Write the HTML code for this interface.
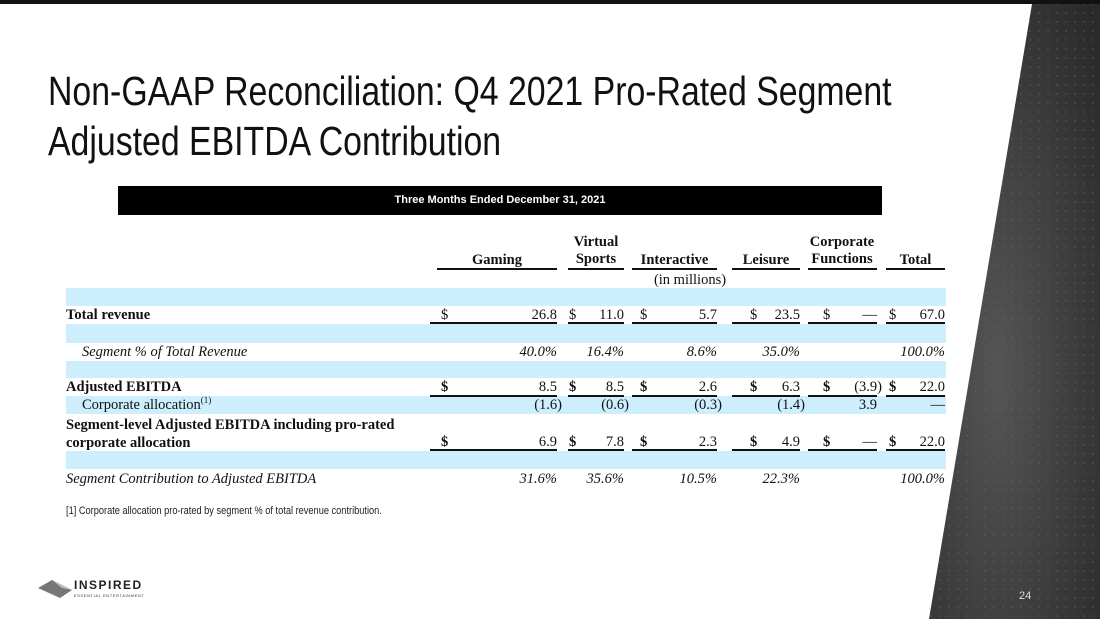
<!DOCTYPE html>
<html><head><meta charset="utf-8"><style>
body{margin:0;width:1100px;height:619px;overflow:hidden;background:#fff;position:relative;font-family:"Liberation Serif",serif;}
.a{position:absolute;white-space:nowrap}
.t{font-size:14.5px;line-height:16px;color:#111}
.b{font-weight:bold}
.i{font-style:italic}
.band{position:absolute;left:66px;width:880px;background:#cdeefc}
.ul{position:absolute;height:2px;background:#111}
</style></head><body>
<div class="a" style="left:0;top:0;width:1100px;height:4px;background:#111"></div>
<svg class="a" style="left:0;top:0" width="1100" height="619">
<defs><radialGradient id="g" cx="0.4" cy="0.6" r="0.8"><stop offset="0" stop-color="#555"/><stop offset="1" stop-color="#2a2a2a"/></radialGradient>
<pattern id="d" width="9" height="9" patternUnits="userSpaceOnUse"><circle cx="4" cy="4" r="1" fill="#6a6a6a"/></pattern></defs>
<polygon points="1032,4 1100,4 1100,619 929,619" fill="url(#g)"/>
<polygon points="1032,4 1100,4 1100,619 929,619" fill="url(#d)" opacity="0.4"/>
</svg>
<div class="a" style="left:1019px;top:590px;font-family:'Liberation Sans',sans-serif;font-size:11px;color:#ddd">24</div>
<div class="a" style="left:48px;top:66px;font-family:'Liberation Sans',sans-serif;font-size:41px;line-height:50px;color:#111;transform:scaleX(0.825);transform-origin:0 0">Non-GAAP Reconciliation: Q4 2021 Pro-Rated Segment<br>Adjusted EBITDA Contribution</div>
<div class="a" style="left:118px;top:186px;width:764px;height:29px;background:#000;color:#fff;font-family:'Liberation Sans',sans-serif;font-weight:bold;font-size:11px;line-height:29px;text-align:center">Three Months Ended December 31, 2021</div>

<div class="band" style="top:288px;height:18px"></div>
<div class="band" style="top:324px;height:19px"></div>
<div class="band" style="top:361px;height:17px"></div>
<div class="band" style="top:396px;height:18px"></div>
<div class="band" style="top:451px;height:18px"></div>

<div class="a t b" style="left:437px;width:120px;top:252px;text-align:center">Gaming</div>
<div class="a t b" style="left:560px;width:72px;top:234px;text-align:center;line-height:17px">Virtual<br>Sports</div>
<div class="a t b" style="left:630px;width:89px;top:252px;text-align:center">Interactive</div>
<div class="a t b" style="left:730px;width:72px;top:252px;text-align:center">Leisure</div>
<div class="a t b" style="left:800px;width:84px;top:234px;text-align:center;line-height:17px">Corporate<br>Functions</div>
<div class="a t b" style="left:886px;width:59px;top:252px;text-align:center">Total</div>
<div class="a t" style="left:638px;width:104px;top:272px;text-align:center">(in millions)</div>
<div class="ul" style="left:437px;width:120px;top:268px"></div>
<div class="ul" style="left:568px;width:56px;top:268px"></div>
<div class="ul" style="left:632px;width:85px;top:268px"></div>
<div class="ul" style="left:732px;width:68px;top:268px"></div>
<div class="ul" style="left:808px;width:69px;top:268px"></div>
<div class="ul" style="left:886px;width:59px;top:268px"></div>

<div class="a t b" style="left:66px;top:307px">Total revenue</div>
<div class="a t i" style="left:82px;top:344px">Segment % of Total Revenue</div>
<div class="a t b" style="left:66px;top:379px">Adjusted EBITDA</div>
<div class="a t" style="left:82px;top:397px">Corporate allocation<sup style="font-size:9px;line-height:0">(1)</sup></div>
<div class="a t b" style="left:66px;top:416px;line-height:18px">Segment-level Adjusted EBITDA including pro-rated<br>corporate allocation</div>
<div class="a t i" style="left:66px;top:471px">Segment Contribution to Adjusted EBITDA</div>

<div id="cells"></div>
<div class="a" style="left:66px;top:505px;font-family:'Liberation Sans',sans-serif;font-size:11px;color:#222;transform:scaleX(0.84);transform-origin:0 0">[1] Corporate allocation pro-rated by segment % of total revenue contribution.</div>

<div class="a" style="left:38px;top:578px;width:110px;height:24px">
<svg width="34" height="22" style="position:absolute;left:0;top:0"><polygon points="0,10 14,2 34,12 22,20" fill="#777"/><polygon points="14,2 34,12 24,10" fill="#bbb"/></svg>
<div class="a" style="left:36px;top:0;font-family:'Liberation Sans',sans-serif;font-weight:bold;font-size:12px;letter-spacing:1.5px;color:#222">INSPIRED</div>
<div class="a" style="left:36px;top:15px;font-family:'Liberation Sans',sans-serif;font-size:4px;letter-spacing:0.6px;color:#333">ESSENTIAL ENTERTAINMENT</div>
</div>

<script>
const columns=["gaming","virtual-sports","interactive","leisure","corporate","total"];
const totalRevenue=["26.8","11.0","5.7","23.5","—","67.0"];
const segmentPct=["40.0%","16.4%","8.6%","35.0%","","100.0%"];
const adjEbitda=["8.5","8.5","2.6","6.3","(3.9)","22.0"];
const corpAlloc=["(1.6)","(0.6)","(0.3)","(1.4)","3.9","—"];
const segmentLevel=["6.9","7.8","2.3","4.9","—","22.0"];
const contribution=["31.6%","35.6%","10.5%","22.3%","","100.0%"];
const dollarX=[441,569,640,750,823,889];
const rightX=[557,624,717,800,877,945];
const lineL=[430,568,632,732,808,886];
const host=document.getElementById('cells');
function row(vals,top,opts){
 vals.forEach((v,i)=>{
  if(v==="")return;
  const d=document.createElement('div');
  d.className='a t'+(opts.ital?' i':'');
  let r=rightX[i];
  if(v.startsWith('(')&&v.endsWith(')'))r+=5;
  d.style.right=(1100-r)+'px';d.style.top=top+'px';
  d.textContent=v;
  
  
  host.appendChild(d);
  if(opts.dollar){
   const s=document.createElement('div');
   s.className='a t'+(opts.bold?' b':'');
   s.style.left=dollarX[i]+'px';s.style.top=top+'px';s.textContent='$';
   
   
   host.appendChild(s);
   const u=document.createElement('div');
   u.className='ul';u.style.left=lineL[i]+'px';u.style.width=(rightX[i]-lineL[i])+'px';u.style.top=(opts.line)+'px';
   
   
   host.appendChild(u);
  }
 });
}
row(totalRevenue,307,{dollar:true,line:322,name:'total-revenue'});
row(segmentPct,344,{ital:true,name:'segment-pct'});
row(adjEbitda,379,{dollar:true,bold:true,line:395,name:'adjusted-ebitda'});
row(corpAlloc,397,{name:'corporate-allocation'});
row(segmentLevel,434,{dollar:true,bold:true,line:449,name:'segment-level'});
row(contribution,471,{ital:true,name:'contribution'});
</script>
</body></html>
